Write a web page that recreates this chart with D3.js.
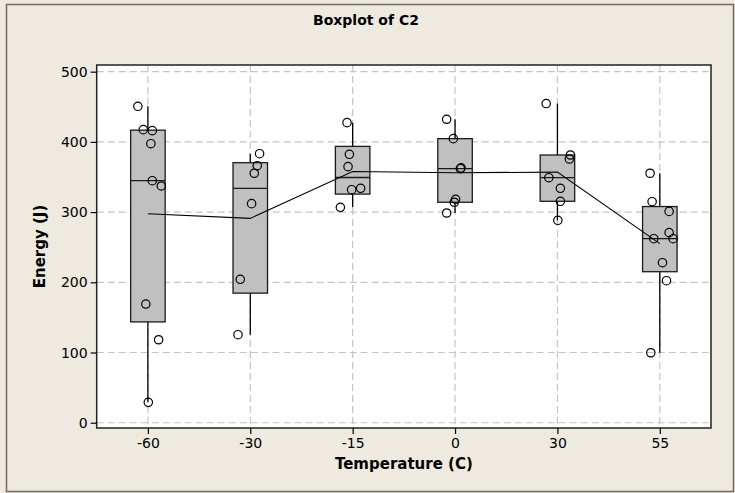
<!DOCTYPE html>
<html>
<head>
<meta charset="utf-8">
<script src="https://cdn.jsdelivr.net/npm/d3@7"></script>
<style>
  html, body { margin: 0; padding: 0; background: #fff; }
  svg { display: block; }
  text { font-family: "DejaVu Sans", "Liberation Sans", Arial, sans-serif; fill: #000; }
</style>
</head>
<body>
<svg id="chart" width="735" height="493"></svg>
<script>
// ---------- data ----------
const categories = ["-60", "-30", "-15", "0", "30", "55"];
const yTicks = [0, 100, 200, 300, 400, 500];
const titleText = "Boxplot of C2";
const xLabel = "Temperature (C)";
const yLabel = "Energy (J)";

// individual observations (Energy, J) per temperature
const energyM60 = [450.7, 417.4, 416.0, 397.4, 344.7, 337.2, 169.0, 118.2, 29.0];
const energyM30 = [383.2, 366.1, 355.3, 312.0, 204.3, 125.4];
const energyM15 = [427.4, 382.3, 364.7, 331.9, 333.9, 306.8];
const energy0   = [432.2, 404.6, 361.8, 363.0, 318.2, 314.0, 298.7];
const energy30  = [454.6, 381.3, 375.6, 349.0, 333.9, 315.4, 288.3];
const energy55  = [355.3, 314.8, 301.0, 270.7, 262.1, 262.1, 227.9, 202.3, 99.7];

const jitterM60 = [-0.098, -0.045, 0.043, 0.029, 0.043, 0.131, -0.020, 0.105, 0.004];
const jitterM30 = [0.091, 0.068, 0.039, 0.013, -0.098, -0.120];
const jitterM15 = [-0.055, -0.032, -0.045, -0.010, 0.078, -0.120];
const jitter0   = [-0.082, -0.017, 0.052, 0.059, 0.006, -0.007, -0.082];
const jitter30  = [-0.110, 0.127, 0.117, -0.084, 0.029, 0.029, 0.004];
const jitter55  = [-0.095, -0.075, 0.091, 0.091, 0.130, -0.059, 0.026, 0.065, -0.088];

const seriesValues = [energyM60, energyM30, energyM15, energy0, energy30, energy55];
const seriesJitter = [jitterM60, jitterM30, jitterM15, jitter0, jitter30, jitter55];

// ---------- statistics (Minitab-style quartiles) ----------
function quant(sorted, p) {
  const n = sorted.length;
  let pos = p * (n + 1);
  if (pos < 1) pos = 1;
  if (pos > n) pos = n;
  const lo = Math.floor(pos), frac = pos - lo;
  const a = sorted[lo - 1], b = sorted[Math.min(lo, n - 1)];
  return a + frac * (b - a);
}
const groups = categories.map((c, i) => {
  const v = seriesValues[i].slice().sort(d3.ascending);
  return {
    cat: c,
    values: seriesValues[i],
    jitter: seriesJitter[i],
    q1: quant(v, 0.25),
    med: quant(v, 0.5),
    q3: quant(v, 0.75),
    lo: d3.min(v),
    hi: d3.max(v),
    mean: d3.mean(v)
  };
});

// ---------- layout ----------
const W = 735, H = 493;
const plot = { left: 96.7, right: 711, top: 65, bottom: 428 };
const bg = "#EEEAE0";
const FONT = '"DejaVu Sans", "Liberation Sans", Arial, sans-serif';

const svg = d3.select("#chart");
svg.append("rect").attr("x", 0).attr("y", 0).attr("width", W).attr("height", H).attr("fill", bg);
svg.append("rect").attr("x", 6.5).attr("y", 4.5).attr("width", 727).attr("height", 487)
  .attr("fill", "none").attr("stroke", "#6a6a6a").attr("stroke-width", 1.5);

const x = d3.scalePoint().domain(categories).range([plot.left, plot.right]).padding(0.5);
const y = d3.scaleLinear().domain([-7.5, 509.5]).range([plot.bottom, plot.top]);
const boxW = x.step() * 0.337;

// plot background
svg.append("rect")
  .attr("x", plot.left).attr("y", plot.top)
  .attr("width", plot.right - plot.left).attr("height", plot.bottom - plot.top)
  .attr("fill", "#fff");

// grid
const grid = svg.append("g").attr("stroke", "#c4c4c4").attr("stroke-width", 1.2).attr("stroke-dasharray", "7,4");
grid.selectAll("line.h").data(yTicks).join("line")
  .attr("x1", plot.left).attr("x2", plot.right)
  .attr("y1", d => y(d)).attr("y2", d => y(d));
grid.selectAll("line.v").data(categories).join("line")
  .attr("x1", d => x(d)).attr("x2", d => x(d))
  .attr("y1", plot.top).attr("y2", plot.bottom);

// boxes
const g = svg.append("g");
groups.forEach(gr => {
  const cx = x(gr.cat);
  g.append("line").attr("x1", cx).attr("x2", cx).attr("y1", y(gr.q3)).attr("y2", y(gr.hi))
    .attr("stroke", "#000").attr("stroke-width", 1.3);
  g.append("line").attr("x1", cx).attr("x2", cx).attr("y1", y(gr.q1)).attr("y2", y(gr.lo))
    .attr("stroke", "#000").attr("stroke-width", 1.3);
  g.append("rect").attr("x", cx - boxW / 2).attr("y", y(gr.q3))
    .attr("width", boxW).attr("height", y(gr.q1) - y(gr.q3))
    .attr("fill", "#c0c0c0").attr("stroke", "#1a1a1a").attr("stroke-width", 1.3);
  g.append("line").attr("x1", cx - boxW / 2).attr("x2", cx + boxW / 2)
    .attr("y1", y(gr.med)).attr("y2", y(gr.med))
    .attr("stroke", "#1a1a1a").attr("stroke-width", 1.3);
});

// mean connect line
svg.append("path")
  .datum(groups)
  .attr("fill", "none").attr("stroke", "#000").attr("stroke-width", 1.1)
  .attr("d", d3.line().x(d => x(d.cat)).y(d => y(d.mean)));

// individual points
const pts = [];
groups.forEach(gr => gr.values.forEach((v, j) => pts.push({ cat: gr.cat, v, jit: gr.jitter[j] })));
svg.append("g").selectAll("circle").data(pts).join("circle")
  .attr("cx", d => x(d.cat) + d.jit * x.step())
  .attr("cy", d => y(d.v))
  .attr("r", 4.2)
  .attr("fill", "none").attr("stroke", "#000").attr("stroke-width", 1.2);

// plot frame
svg.append("rect")
  .attr("x", plot.left).attr("y", plot.top)
  .attr("width", plot.right - plot.left).attr("height", plot.bottom - plot.top)
  .attr("fill", "none").attr("stroke", "#222").attr("stroke-width", 1.5);

// axes
const yAxis = svg.append("g").attr("transform", `translate(${plot.left},0)`)
  .call(d3.axisLeft(y).tickValues(yTicks).tickSize(6).tickPadding(3));
const xAxis = svg.append("g").attr("transform", `translate(0,${plot.bottom})`)
  .call(d3.axisBottom(x).tickSize(6).tickPadding(4));
[yAxis, xAxis].forEach(a => {
  a.select(".domain").remove();
  a.selectAll(".tick line").attr("stroke", "#000").attr("stroke-width", 1.2);
  a.selectAll(".tick text").attr("font-size", 14).attr("fill", "#000").style("font-family", FONT);
});

// titles
svg.append("text").attr("x", 366).attr("y", 25).attr("text-anchor", "middle")
  .attr("font-size", 14).attr("font-weight", "bold").text(titleText);
svg.append("text").attr("x", (plot.left + plot.right) / 2).attr("y", 469).attr("text-anchor", "middle")
  .attr("font-size", 15).attr("font-weight", "bold").text(xLabel);
svg.append("text").attr("transform", `translate(45,${(plot.top + plot.bottom) / 2}) rotate(-90)`)
  .attr("text-anchor", "middle").attr("font-size", 15).attr("font-weight", "bold").text(yLabel);
</script>
</body>
</html>
